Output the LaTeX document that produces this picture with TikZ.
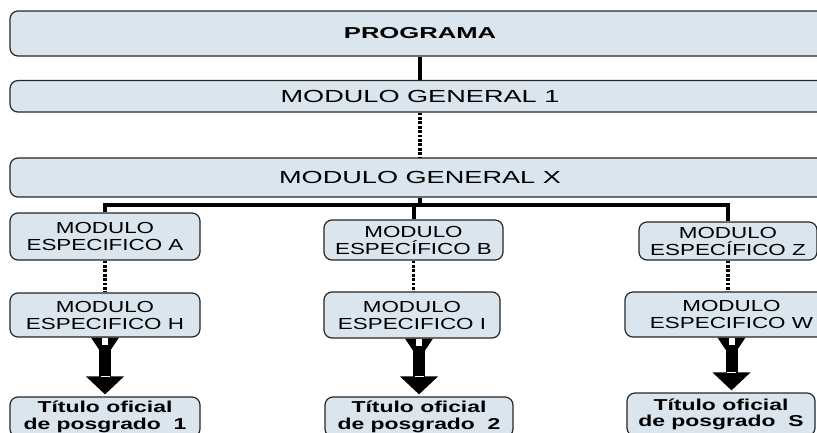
\documentclass[tikz,border=0pt]{standalone}
\usepackage{fontspec}
\setmainfont{Liberation Sans}
\newfontfamily\genfont[FakeStretch=1.55]{Liberation Sans}
\newfontfamily\headfont[FakeStretch=1.62]{Liberation Sans}
\newfontfamily\specfont[FakeStretch=1.4]{Liberation Sans}
\newfontfamily\titfont[FakeStretch=1.45]{Liberation Sans}
\usetikzlibrary{arrows.meta,calc}
\definecolor{boxfill}{RGB}{218,229,237}

% thick block arrow with a flared tail, from #1 (top) to #2 (tip)
\newcommand\fatarrow[2]{%
  \fill ($(#1)+(-14,0)$) -- ($(#1)+(14,0)$) -- ($(#1)+(6,12)$) -- ($(#1)+(-6,12)$) -- cycle;
  \draw[line width=12pt,-{Triangle[width=37pt,length=18pt]}] (#1) -- ($(#2)+(0,-2)$);
  \fill[white] ($(#1)+(-3,0.8)$) rectangle ($(#1)+(3,7)$);
  \fill[white] ($(#2)+(-4.5,-20.5)$) rectangle ($(#2)+(4.5,-19)$);
}

\begin{document}
\begin{tikzpicture}[x=1pt,y=-1pt,
  box/.style={draw=black!85,line width=1.2pt,fill=boxfill,rounded corners=8pt,
    inner sep=0pt,align=center},
  genbox/.style={box,minimum width=820pt,font=\genfont\fontsize{17.5}{19}\selectfont},
  specbox/.style={box,font=\specfont\fontsize{16}{17}\selectfont},
  titbox/.style={box,font=\titfont\bfseries\fontsize{15.8}{16.5}\selectfont},
  solidlink/.style={line width=4.5pt},
  barlink/.style={line width=4pt},
  dotlink/.style={line width=3.5pt,dash pattern=on 2.8pt off 1.6pt}]
\useasboundingbox (0,0) rectangle (817,432);
\clip (0,0) rectangle (817,432);

% general chain
\node[genbox,minimum height=45pt,font=\headfont\bfseries\fontsize{15.8}{17}\selectfont]
  (prog) at (420,33.5) {PROGRAMA};
\node[genbox,minimum height=31.5pt] (mg1) at (420,96.3) {MODULO GENERAL 1};
\node[genbox,minimum height=39pt] (mgx) at (420,177.5) {MODULO GENERAL X};

% specific modules
\node[specbox,minimum width=190pt,minimum height=47pt] (ma) at (105,236.5) {MODULO\\ESPECIFICO A};
\node[specbox,minimum width=179pt,minimum height=40pt] (mb) at (413.5,240) {MODULO\\ESPECÍFICO B};
\node[specbox,minimum width=178pt,minimum height=38pt] (mz) at (728,241) {MODULO\\ESPECÍFICO Z};
\node[specbox,minimum width=190pt,minimum height=44pt] (mh) at (105,315) {MODULO\\ESPECIFICO H};
\node[specbox,minimum width=176pt,minimum height=46pt] (mi) at (412,315) {MODULO\\ESPECIFICO I};
\node[specbox,minimum width=213pt,minimum height=45pt] (mw) at (731.5,314.5) {MODULO\\ESPECIFICO W};

% degrees
\node[titbox,minimum width=190pt,minimum height=40pt] (t1) at (105,417) {Título oficial\\de posgrado~~1};
\node[titbox,minimum width=188pt,minimum height=40pt] (t2) at (419,417) {Título oficial\\de posgrado~~2};
\node[titbox,minimum width=188pt,minimum height=43pt] (ts) at (721,414.5) {Título oficial\\de posgrado~~S};

% links between general modules
\draw[solidlink] (prog.south) -- (mg1.north);
\draw[dotlink] (mg1.south) -- (mgx.north);

% branching bar
\coordinate (bar) at (420,205);
\draw[barlink] (mgx.south) -- ([yshift=2pt]bar);
\draw[barlink] (ma.north) -- (ma.north |- bar) -- (mz.north |- bar) -- (mz.north);
\draw[barlink] (mb.north) -- (mb.north |- bar);

% dotted chains inside each column
\draw[dotlink] (ma.south) -- (ma.south |- mh.north);
\draw[dotlink] (mb.south) -- (mb.south |- mi.north);
\draw[dotlink] (mz.south) -- (mz.south |- mw.north);

% arrows to the degrees
\fatarrow{mh.south}{mh.south |- t1.north}
\fatarrow{t2.north |- mi.south}{t2.north}
\fatarrow{mw.south}{mw.south |- ts.north}
\end{tikzpicture}
\end{document}
